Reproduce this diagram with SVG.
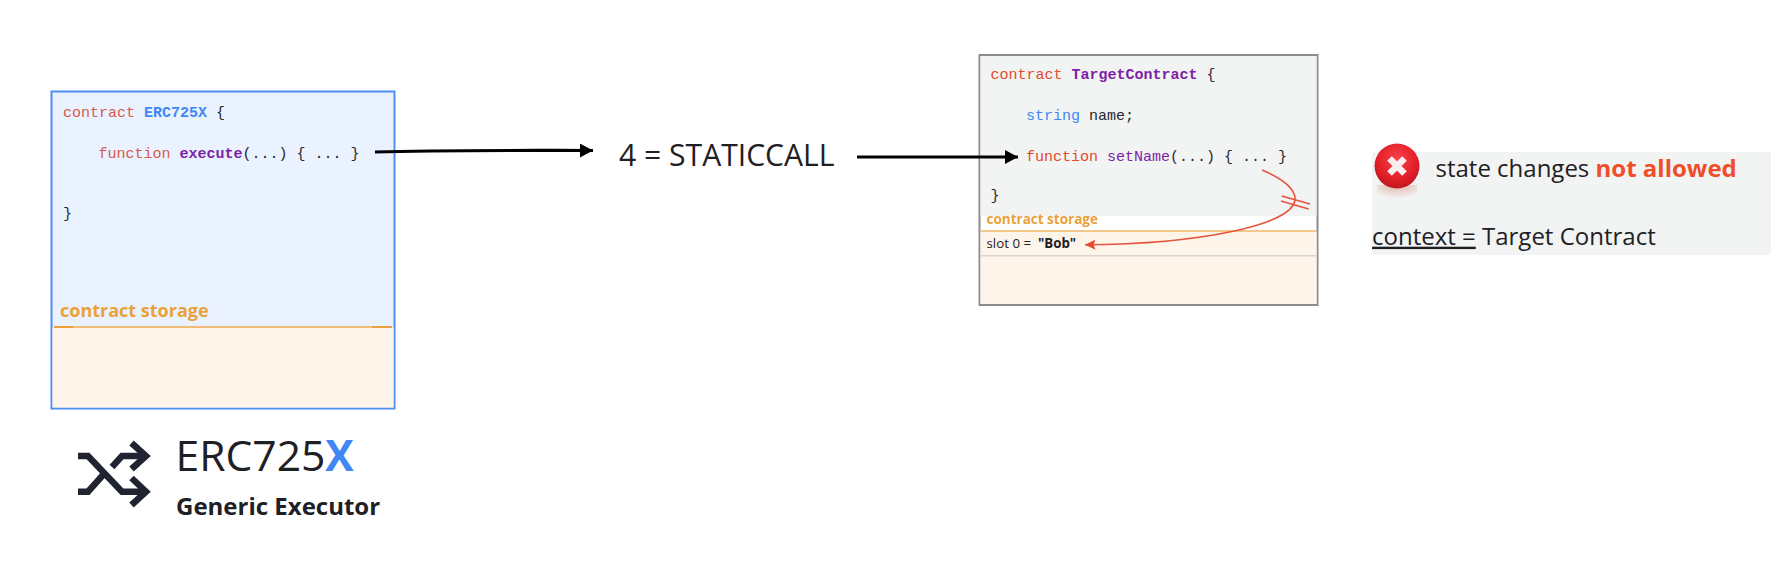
<svg xmlns="http://www.w3.org/2000/svg" width="1771" height="564" viewBox="0 0 1771 564">
<style>
text{font-family:"Open Sans","Noto Sans","Liberation Sans",sans-serif;fill:#1f2024}
.code{font-family:"Liberation Mono","DejaVu Sans Mono",monospace;font-size:15px;fill:#26282c;white-space:pre}
.kw{fill:#e5492b}.kwl{fill:#d65a50}.pur{fill:#7d1fa8;font-weight:700}.purn{fill:#7d1fa8}.blu{fill:#3f87f5;font-weight:700}.blun{fill:#3f87f5}
.b{font-weight:700}
.st{fill:#e9a23b;font-weight:700}
.conn{fill:none;stroke:#000;stroke-width:3.2}
.red{fill:none;stroke:#e5533a;stroke-width:1.6}
.ic{fill:none;stroke:#1f2430;stroke-width:6.5;stroke-linejoin:miter}
</style>
<defs>
<marker id="ah" markerUnits="userSpaceOnUse" markerWidth="14" markerHeight="14" refX="13" refY="7" orient="auto"><path d="M0 0L13 7L0 14Z" fill="#000"/></marker>
<marker id="rh" markerUnits="userSpaceOnUse" markerWidth="11" markerHeight="10" refX="10.5" refY="5" orient="auto"><path d="M0 0L10.5 5L0 10L2 5Z" fill="#e5492b"/></marker>
<radialGradient id="rg" cx="0.5" cy="0.35" r="0.7"><stop offset="0" stop-color="#f8434a"/><stop offset="0.6" stop-color="#e3202a"/><stop offset="1" stop-color="#b8141c"/></radialGradient>
<radialGradient id="rf" cx="0.5" cy="0" r="0.75"><stop offset="0" stop-color="#e0b4aa"/><stop offset="1" stop-color="#f2f3f3"/></radialGradient>
</defs>

<g id="erc725x-contract">
<rect x="51.500" y="91.500" width="343" height="317" fill="#e9f2fe" stroke="#4f8ef5" stroke-width="2"/>
<rect x="52.500" y="328" width="341" height="79.500" fill="#fef5ea"/>
<line x1="54" y1="327" x2="392" y2="327" stroke="#efbd77" stroke-width="1.800"/>
<path d="M54 327H73M372 327H392" stroke="#e9a23b" stroke-width="1.800" fill="none"/>
<text class="code" x="63" y="116.500"><tspan class="kwl">contract</tspan> <tspan class="blu">ERC725X</tspan> {</text>
<text class="code" x="98.500" y="157.500"><tspan class="kwl">function</tspan> <tspan class="pur">execute</tspan>(...) { ... }</text>
<text class="code" x="63" y="217.500">}</text>
<text class="st" x="60" y="316.500" font-size="18">contract storage</text>
</g>

<g id="erc725x-logo">
<path class="ic" d="M78 456H88L122 491.700H145M78 491.700H88L103 475M112 467L122 456H145"/>
<path class="ic" d="M131.500 443L146 456L131.500 469M131.500 478L146 491.700L131.500 505"/>
<text x="175.500" y="470.500" font-size="42.600">ERC725<tspan class="blu">X</tspan></text>
<text class="b" x="176" y="515" font-size="24">Generic Executor</text>
</g>

<g id="staticcall-label">
<text x="619" y="166" font-size="30.100">4 = STATICCALL</text>
</g>

<g id="target-contract">
<rect x="979.500" y="55" width="338" height="250" fill="#fff" stroke="#8c8c8c" stroke-width="2"/>
<rect x="980.500" y="56" width="336" height="160" fill="#f2f3f3"/>
<rect x="980.500" y="232" width="336" height="72" fill="#fef5ea"/>
<line x1="981" y1="231" x2="1316" y2="231" stroke="#efb565" stroke-width="1.500"/>
<line x1="981" y1="255.700" x2="1316" y2="255.700" stroke="#dcd5cc" stroke-width="1.500"/>
<text class="code" x="990.500" y="79.300"><tspan class="kw">contract</tspan> <tspan class="pur">TargetContract</tspan> {</text>
<text class="code" x="1026" y="119.500"><tspan class="blun">string</tspan> name;</text>
<text class="code" x="1026" y="160.500"><tspan class="kw">function</tspan> <tspan class="purn">setName</tspan>(...) { ... }</text>
<text class="code" x="990.500" y="200">}</text>
<text class="st" x="986.500" y="224" font-size="13.500">contract storage</text>
<text x="986.500" y="248" font-size="13.300">slot 0 =</text>
<text class="b" x="1038" y="248" font-size="13.300">"Bob"</text>
</g>

<g id="not-allowed-note">
<rect x="1372" y="152" width="399" height="103" fill="#f2f3f3"/>
<rect x="1377" y="185" width="40" height="18" fill="url(#rf)"/>
<circle cx="1397" cy="166" r="22.500" fill="url(#rg)"/>
<path d="M1389.500 158.500L1404.500 173.500M1404.500 158.500L1389.500 173.500" stroke="#fbeeee" stroke-width="6.500" fill="none"/>
<text x="1435.500" y="176.800" font-size="24">state changes <tspan fill="#f04e2a" style="fill:#f04e2a" font-weight="700">not allowed</tspan></text>
<text x="1372" y="244.700" font-size="24"><tspan text-decoration="underline">context =</tspan> Target Contract</text>
</g>

<g id="connectors">
<path class="conn" marker-end="url(#ah)" d="M375 152C440 150 520 150.500 593 150.500"/>
<path class="conn" marker-end="url(#ah)" d="M857 157H1018"/>
<path class="red" marker-end="url(#rh)" d="M1262 170C1284 179 1296 190 1295 200C1292 225 1200 244 1085 244.700"/>
<path class="red" d="M1281.700 196L1310 204M1281 201L1308.700 209"/>
</g>
</svg>
